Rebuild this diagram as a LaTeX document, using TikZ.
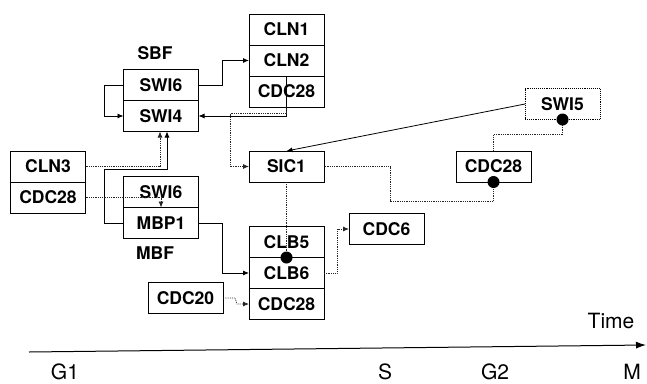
\documentclass[tikz,border=0pt]{standalone}
\usepackage{fontspec}
\setmainfont{TeX Gyre Heros}
\usetikzlibrary{positioning}
\usetikzlibrary{arrows.meta}

\tikzset{
  gene/.style={draw, line width=.9pt, minimum width=75pt, minimum height=31pt,
    inner sep=0pt, outer sep=0pt, font=\fontsize{17.5}{19}\selectfont\bfseries},
  act/.style={line width=.8pt, -{Latex[length=6pt,width=5pt]}},
  dotline/.style={line width=.8pt, densely dotted, black!85},
  phase/.style={font=\fontsize{21}{22}\selectfont, inner sep=0pt, anchor=base},
}

\begin{document}
\begin{tikzpicture}[x=1pt,y=-1pt]
\useasboundingbox (0,0) rectangle (647,383);
% SBF complex
\node[gene] (swi6a) at (161,85) {SWI6};
\node[gene,below=0pt of swi6a] (swi4) {SWI4};
\node[font=\fontsize{17.5}{19}\selectfont\bfseries] (sbf) at (155,53) {SBF};
% CLN1/CLN2/CDC28
\node[gene] (cln1) at (286.5,29.5) {CLN1};
\node[gene,below=0pt of cln1] (cln2) {CLN2};
\node[gene,below=0pt of cln2] (cdcA) {CDC28};
% CLN3/CDC28
\node[gene] (cln3) at (48,166.5) {CLN3};
\node[gene,below=0pt of cln3] (cdcL) {CDC28};
% MBF complex
\node[gene] (swi6b) at (161,192) {SWI6};
\node[gene,below=0pt of swi6b] (mbp1) {MBP1};
\node[font=\fontsize{17.5}{19}\selectfont\bfseries] (mbf) at (155,253) {MBF};
% SIC1, SWI5, CDC28
\node[gene] (sic1) at (286.5,166.5) {SIC1};
\node[gene,densely dotted] (swi5) at (562.5,104) {SWI5};
\node[gene] (cdcR) at (493.5,166.5) {CDC28};
% CLB5/CLB6/CDC28
\node[gene] (clb5) at (286.5,242) {CLB5};
\node[gene,below=0pt of clb5] (clb6) {CLB6};
\node[gene,below=0pt of clb6] (cdcB) {CDC28};
\node[gene] (cdc6) at (386.5,229) {CDC6};
\node[gene] (cdc20) at (185.5,298) {CDC20};

% solid connectors
\draw[act] (swi6a.west) -- ++(-19,0) |- (swi4.west);
\draw[act] (swi6a.east) -- ++(24,0) |- (cln2.west);
\draw[act] (cdcA.north) |- (swi4.east);
\draw[act] (mbp1.west) -- ++(-19,0) |- ([xshift=6pt,yshift=-38pt]swi4.south) -- ([xshift=6pt]swi4.south);
\draw[act] (mbp1.east) -- ++(24,0) |- (clb6.west);
\draw[act] (swi5.west) -- (sic1.north);
% dotted connectors
\draw[dotline,-{Latex[length=6pt,width=5pt]}] (cdcA.south) -- ++(0,6) -| ([xshift=-19pt]sic1.west) -- (sic1.west);
\draw[dotline,-{Latex[length=6pt,width=5pt]}] (cln3.east) -| ([xshift=-1pt]swi4.south);
\draw[dotline,-{Latex[length=6pt,width=5pt]}] (cdcL.east) -| (swi6b.south);
\draw[dotline] (swi5.south) -- ++(0,15) -| (cdcR.north);
\draw[dotline] (cdcR.south) -- ++(0,19) -| ([xshift=66pt]sic1.east) -- (sic1.east);
\draw[dotline] (sic1.south) -- (clb5.south);
\draw[dotline,-{Latex[length=6pt,width=5pt]}] (clb6.east) -- ++(13,0) |- (cdc6.west);
\draw[dotline,-{Latex[length=6pt,width=5pt]}] (cdc20.east) -- ++(12,0) -- ++(2,6) -- (cdcB.west);
% dots
\fill (swi5.south) circle(6pt);
\fill (cdcR.south) circle(6pt);
\fill (clb5.south) circle(6pt);

% time axis
\coordinate (t0) at (29,352);
\coordinate (t1) at (646,345);
\draw[line width=1pt,-{Latex[length=10pt,width=7pt]}] (t0) -- (t1);
\node[phase] (time) at (611,328) {Time};
\node[phase] (g1) at (65,379) {G1};
\node[phase] (s) at (385,379) {S};
\node[phase] (g2) at (495,379) {G2};
\node[phase] (m) at (632,379) {M};
\end{tikzpicture}
\end{document}
